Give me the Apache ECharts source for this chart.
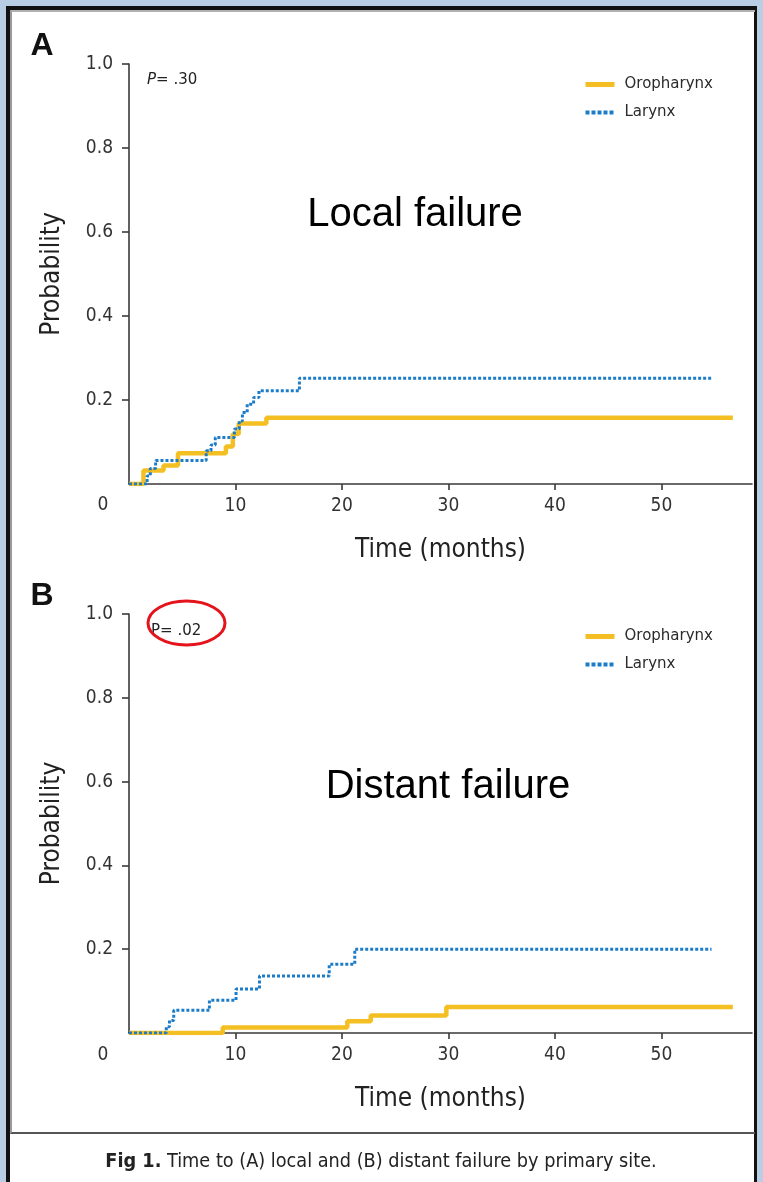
<!DOCTYPE html>
<html>
<head>
<meta charset="utf-8">
<script src="https://cdn.jsdelivr.net/npm/echarts@6/dist/echarts.min.js"></script>
<style>
  html, body { margin: 0; padding: 0; width: 763px; height: 1182px; overflow: hidden; background: #b9cde5; }
  #frame { position: absolute; left: 6px; top: 6px; width: 751px; height: 1176px; background: #fff;
           border-left: 4px solid #111; border-top: 4px solid #111; border-right: 3px solid #111; box-sizing: border-box; }
  #inner { position: absolute; left: 10px; top: 10px; width: 745px; height: 1124px;
           border-left: 2px solid #9a9a9a; border-top: 2px solid #b0b0b0; border-bottom: 2px solid #555; box-sizing: border-box; }
  #chart { position: absolute; left: 0; top: 0; width: 763px; height: 1182px; }
</style>
</head>
<body>
<div id="frame"></div>
<div id="inner"></div>
<div id="chart"></div>
<script>
// Kaplan-Meier style cumulative failure curves, months vs probability
const seriesNames = ['Oropharynx', 'Larynx'];

// Panel A: local failure
const localOroMonths = [0, 1.36, 3.24, 4.6, 9.1, 9.75, 10.3, 12.9, 56.7];
const localOroProb   = [0, 0.032, 0.044, 0.073, 0.089, 0.119, 0.144, 0.158, 0.158];
const localLarMonths = [0, 1.7, 2.0, 2.5, 7.25, 7.7, 8.1, 9.9, 10.35, 10.65, 11.1, 11.7, 12.2, 16.0, 54.7];
const localLarProb   = [0, 0.019, 0.037, 0.056, 0.079, 0.093, 0.111, 0.131, 0.150, 0.170, 0.190, 0.206, 0.222, 0.252, 0.252];

// Panel B: distant failure
const distOroMonths = [0, 8.8, 20.5, 22.7, 29.8, 56.7];
const distOroProb   = [0, 0.013, 0.028, 0.042, 0.062, 0.062];
const distLarMonths = [0, 3.5, 3.8, 4.2, 7.55, 10.05, 12.25, 18.8, 21.2, 54.7];
const distLarProb   = [0, 0.015, 0.030, 0.054, 0.078, 0.105, 0.136, 0.164, 0.200, 0.200];

const xTicks = [10, 20, 30, 40, 50];
const yTicks = [0.2, 0.4, 0.6, 0.8, 1.0];
const panelTitles = ['Local failure', 'Distant failure'];
const pValues = ['.30', '.02'];
const caption = 'Time to (A) local and (B) distant failure by primary site.';

const ORANGE = '#f4bf22';
const BLUE = '#1c7cc8';
const NARROW = '"Liberation Sans Narrow", "DejaVu Sans Condensed", "Arial Narrow", sans-serif';
const SANS = '"Liberation Sans", Arial, sans-serif';
const WIDE = '"DejaVu Sans", Verdana, sans-serif';

function pairs(xs, ys) { return xs.map((x, i) => [x, ys[i]]); }

const grids = [
  { left: 129, top: 64, width: 623, height: 420 },
  { left: 129, top: 614, width: 623, height: 419 }
];

function xAxisFor(i) {
  return {
    gridIndex: i, type: 'value', min: 0, max: 58.5,
    name: 'Time (months)', nameLocation: 'middle', nameGap: 53,
    nameTextStyle: { fontFamily: NARROW, fontSize: 26, color: '#222' },
    axisLine: { lineStyle: { color: '#3a3a3a', width: 1.6 } },
    axisTick: { show: true, length: 6, customValues: xTicks, lineStyle: { color: '#3a3a3a', width: 1.6 } },
    axisLabel: { customValues: xTicks, margin: 13, fontFamily: NARROW, fontSize: 19, color: '#333' },
    splitLine: { show: false }
  };
}
function yAxisFor(i) {
  return {
    gridIndex: i, type: 'value', min: 0, max: 1,
    name: 'Probability', nameLocation: 'middle', nameGap: 64,
    nameTextStyle: { fontFamily: NARROW, fontSize: 26, color: '#222' },
    axisLine: { show: true, lineStyle: { color: '#3a3a3a', width: 1.6 } },
    axisTick: { show: true, length: 7, customValues: yTicks, lineStyle: { color: '#3a3a3a', width: 1.6 } },
    axisLabel: { customValues: yTicks, margin: 16, fontFamily: NARROW, fontSize: 19, color: '#333',
                 formatter: v => v.toFixed(1) },
    splitLine: { show: false }
  };
}

function curve(name, i, xs, ys, dotted) {
  return {
    name: name, type: 'line', xAxisIndex: i, yAxisIndex: i, step: 'end',
    symbol: 'none', showSymbol: false, silent: true, z: dotted ? 3 : 2,
    data: pairs(xs, ys),
    lineStyle: dotted
      ? { color: BLUE, width: 3, type: [3, 2], cap: 'butt' }
      : { color: ORANGE, width: 4.5, cap: 'butt' },
    itemStyle: { color: dotted ? BLUE : ORANGE }
  };
}

function legendFor(top) {
  return {
    orient: 'vertical', left: 578, top: top, itemWidth: 29, itemHeight: 14, itemGap: 13,
    selectedMode: false,
    data: [
      { name: seriesNames[0], itemStyle: { opacity: 0 }, lineStyle: { color: ORANGE, width: 5, type: 'solid' } },
      { name: seriesNames[1], itemStyle: { opacity: 0 }, lineStyle: { color: BLUE, width: 4, type: [4, 2] } }
    ],
    textStyle: { fontFamily: WIDE, fontSize: 15, color: '#2a2a2a', padding: [0, 0, 0, 5] }
  };
}

function text(x, y, str, style) {
  return { type: 'text', x: x, y: y, style: Object.assign({ text: str, fill: '#111' }, style) };
}

const graphics = [
  text(42, 46, 'A', { font: 'bold 32px ' + SANS, align: 'center', verticalAlign: 'middle' }),
  text(42, 596, 'B', { font: 'bold 32px ' + SANS, align: 'center', verticalAlign: 'middle' }),
  text(103, 505, '0', { font: '19px ' + NARROW, fill: '#333', align: 'center', verticalAlign: 'middle' }),
  text(103, 1055, '0', { font: '19px ' + NARROW, fill: '#333', align: 'center', verticalAlign: 'middle' }),
  text(415, 215, panelTitles[0], { font: '40px ' + SANS, fill: '#000', align: 'center', verticalAlign: 'middle' }),
  text(448, 787, panelTitles[1], { font: '40px ' + SANS, fill: '#000', align: 'center', verticalAlign: 'middle' }),
  { type: 'text', x: 147, y: 80, style: {
      text: '{i|P}= ' + pValues[0], verticalAlign: 'middle', fill: '#222', font: '15px ' + WIDE,
      rich: { i: { fontStyle: 'italic', fontFamily: WIDE, fontSize: 15, fill: '#222' } } } },
  text(151, 631, 'P= ' + pValues[1], { font: '15px ' + WIDE, fill: '#222', verticalAlign: 'middle' }),
  { type: 'ellipse', shape: { cx: 186.5, cy: 623, rx: 38.5, ry: 22 },
    style: { fill: 'none', stroke: '#e5141c', lineWidth: 3 }, z: 10 },
  { type: 'text', x: 381, y: 1162, style: {
      text: '{b|Fig 1.} ' + caption, align: 'center', verticalAlign: 'middle',
      font: '19.7px ' + NARROW, fill: '#222',
      rich: { b: { fontWeight: 'bold', fontFamily: NARROW, fontSize: 19.7, fill: '#222' } } } }
];

const chart = echarts.init(document.getElementById('chart'), null, { renderer: 'canvas' });
chart.setOption({
  animation: false,
  backgroundColor: 'transparent',
  grid: grids,
  xAxis: [xAxisFor(0), xAxisFor(1)],
  yAxis: [yAxisFor(0), yAxisFor(1)],
  legend: [legendFor(72), legendFor(624)],
  series: [
    curve(seriesNames[0], 0, localOroMonths, localOroProb, false),
    curve(seriesNames[1], 0, localLarMonths, localLarProb, true),
    curve(seriesNames[0], 1, distOroMonths, distOroProb, false),
    curve(seriesNames[1], 1, distLarMonths, distLarProb, true)
  ],
  graphic: graphics
});
</script>
</body>
</html>
